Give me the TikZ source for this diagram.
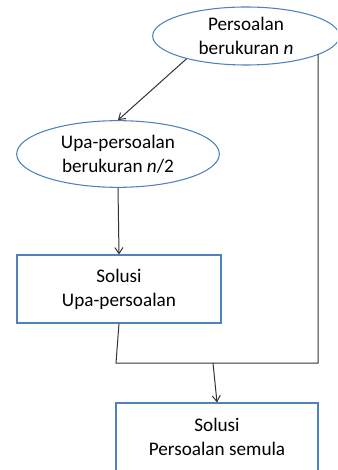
\documentclass[tikz,border=0pt]{standalone}
\usepackage{fontspec}
\setmainfont{Carlito}
\usetikzlibrary{shapes.geometric, arrows.meta}
\definecolor{officeblue}{RGB}{79,129,189}

\begin{document}
\begin{tikzpicture}[x=0.75pt, y=-0.75pt, every node/.style={align=center, font=\fontsize{14.4}{18}\selectfont},
    probshape/.style={ellipse, draw=officeblue, line width=0.8pt, inner sep=0pt},
    solbox/.style={rectangle, draw=officeblue, line width=0.8pt, inner sep=0pt},
    link/.style={draw=black!80, line width=0.75pt},
    tip/.style={-{Straight Barb[length=4.5pt, width=6pt]}}]
        % Frame
        \useasboundingbox (0,0) rectangle (337,470);
        \clip (0,0) rectangle (337,470);

        % Problems
        \node[probshape, minimum width=140pt, minimum height=43.5pt] (prob) at (246,36) {Persoalan\\ berukuran \textit{n}};
        \node[probshape, minimum width=152pt, minimum height=50pt] (sub) at (118,154) {Upa-persoalan\\ berukuran \textit{n}/2};

        % Solutions
        \node[solbox, minimum width=153pt, minimum height=51pt] (solsub) at (119,289) {Solusi\\ Upa-persoalan};
        \node[solbox, minimum width=151.5pt, minimum height=51pt] (sol) at (217,437) {Solusi\\ Persoalan semula};

        % Connectors
        \coordinate (join) at (116,363);
        \coordinate (corner) at (318,363);
        \coordinate (merge) at (213,363);
        \draw[link, tip] (prob.201) -- (sub.north);
        \draw[link, tip] (sub.south) -- (solsub.north);
        \draw[link] (solsub.south) -- (join) -- (corner) -- (corner |- prob.-14);
        \draw[link, tip] (merge) -- (sol.north);

    \end{tikzpicture}
\end{document}
